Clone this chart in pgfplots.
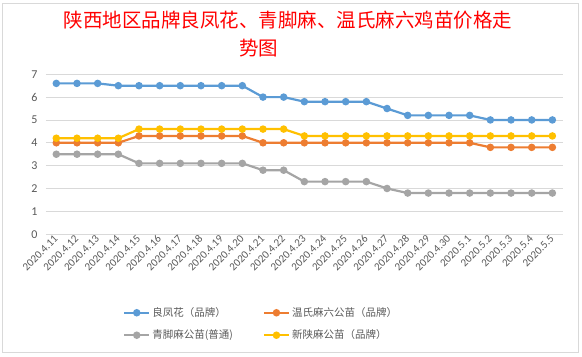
\documentclass[border=0pt]{standalone}
\usepackage{fontspec}
\usepackage{pgfplots}
\pgfplotsset{compat=1.18}
\setmainfont{Carlito}
\newfontfamily\cjk{Noto Sans CJK SC}
\definecolor{cblue}{HTML}{5B9BD5}
\definecolor{corange}{HTML}{ED7D31}
\definecolor{cgray}{HTML}{A5A5A5}
\definecolor{cyellow}{HTML}{FFC000}
\definecolor{txt}{HTML}{595959}
\definecolor{gridc}{HTML}{D9D9D9}
\begin{document}
\begin{tikzpicture}
\begin{axis}[
  scale only axis,
  width=517bp, height=160bp,
  xmin=-0.5, xmax=24.5, ymin=0, ymax=7,
  ytick={0,1,2,3,4,5,6,7},
  xtick={0,...,24},
  xticklabels={2020.4.11,2020.4.12,2020.4.13,2020.4.14,2020.4.15,2020.4.16,2020.4.17,2020.4.18,2020.4.19,2020.4.20,2020.4.21,2020.4.22,2020.4.23,2020.4.24,2020.4.25,2020.4.26,2020.4.27,2020.4.28,2020.4.29,2020.4.30,2020.5.1,2020.5.2,2020.5.3,2020.5.4,2020.5.5},
  axis line style={draw=none},
  major tick length=0pt,
  ymajorgrids, major grid style={gridc, line width=0.8bp},
  /pgf/number format/assume math mode=true,
  tick label style={text=txt},
  yticklabel style={xshift=-5bp, font=\fontsize{12bp}{14bp}\selectfont},
  xticklabel style={rotate=45, anchor=east, xshift=1bp, yshift=-2bp, font=\fontsize{11bp}{13bp}\selectfont},
  every axis plot/.append style={line width=2.2bp, mark=*, mark size=2.6bp},
  legend columns=2,
  legend cell align=left,
  legend style={draw=none, fill=none, inner sep=0pt, at={(0.149,-0.445)}, anchor=north west,
    font=\cjk\fontsize{10.5bp}{12bp}\selectfont, text=txt,
    /tikz/every even column/.append style={column sep=28bp},
    row sep=8bp},
  legend image code/.code={\draw[mark repeat=2,mark phase=2] plot coordinates {(0bp,0bp) (12.5bp,0bp) (25bp,0bp)};},
]
\addplot[cblue, mark options={fill=cblue, draw=cblue}] coordinates {
(0,6.6)(1,6.6)(2,6.6)(3,6.5)(4,6.5)(5,6.5)(6,6.5)(7,6.5)(8,6.5)(9,6.5)(10,6.0)(11,6.0)(12,5.8)(13,5.8)(14,5.8)(15,5.8)(16,5.5)(17,5.2)(18,5.2)(19,5.2)(20,5.2)(21,5.0)(22,5.0)(23,5.0)(24,5.0)};
\addlegendentry{良凤花（品牌）}
\addplot[corange, mark options={fill=corange, draw=corange}] coordinates {
(0,4.0)(1,4.0)(2,4.0)(3,4.0)(4,4.3)(5,4.3)(6,4.3)(7,4.3)(8,4.3)(9,4.3)(10,4.0)(11,4.0)(12,4.0)(13,4.0)(14,4.0)(15,4.0)(16,4.0)(17,4.0)(18,4.0)(19,4.0)(20,4.0)(21,3.8)(22,3.8)(23,3.8)(24,3.8)};
\addlegendentry{温氏麻六公苗（品牌）}
\addplot[cgray, mark options={fill=cgray, draw=cgray}] coordinates {
(0,3.5)(1,3.5)(2,3.5)(3,3.5)(4,3.1)(5,3.1)(6,3.1)(7,3.1)(8,3.1)(9,3.1)(10,2.8)(11,2.8)(12,2.3)(13,2.3)(14,2.3)(15,2.3)(16,2.0)(17,1.8)(18,1.8)(19,1.8)(20,1.8)(21,1.8)(22,1.8)(23,1.8)(24,1.8)};
\addlegendentry{青脚麻公苗(普通)}
\addplot[cyellow, mark options={fill=cyellow, draw=cyellow}] coordinates {
(0,4.2)(1,4.2)(2,4.2)(3,4.2)(4,4.6)(5,4.6)(6,4.6)(7,4.6)(8,4.6)(9,4.6)(10,4.6)(11,4.6)(12,4.3)(13,4.3)(14,4.3)(15,4.3)(16,4.3)(17,4.3)(18,4.3)(19,4.3)(20,4.3)(21,4.3)(22,4.3)(23,4.3)(24,4.3)};
\addlegendentry{新陕麻公苗（品牌）}
\coordinate (sw) at (rel axis cs:0,0);
\coordinate (ne) at (rel axis cs:1,1);
\end{axis}
\node[text=red, font=\cjk\fontsize{19.5bp}{28bp}\selectfont, text width=390bp, align=center, anchor=center, inner sep=0pt] at ([xshift=213bp, yshift=40bp]sw |- ne) {陕西地区品牌良凤花、青脚麻、温氏麻六鸡苗价格走\\势图};
\draw[gridc, line width=0.6bp] ([xshift=-44bp,yshift=-118bp]sw) rectangle ([xshift=15.3bp,yshift=71.3bp]ne);
\path ([xshift=-46bp,yshift=-122bp]sw) rectangle ([xshift=19.3bp,yshift=74.3bp]ne);
\end{tikzpicture}
\end{document}
